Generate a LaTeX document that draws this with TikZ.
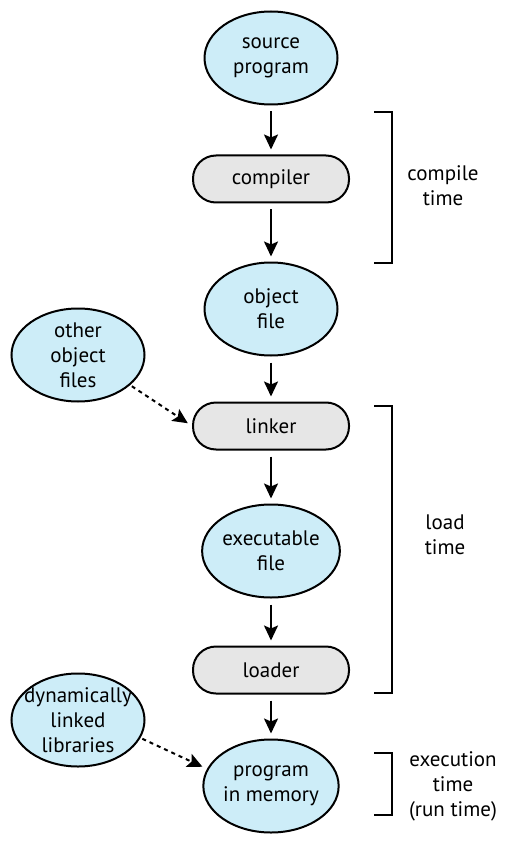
\documentclass[tikz,border=0pt]{standalone}
\usepackage{fontspec}
\setmainfont{PT Sans}
\usetikzlibrary{shapes.geometric,arrows.meta}
\definecolor{filebg}{HTML}{CDEDF8}
\definecolor{toolbg}{HTML}{E6E6E6}

\begin{document}
\begin{tikzpicture}[x=1pt,y=-1pt,font=\fontsize{21}{25}\selectfont,
	file/.style={ellipse, draw, line width=2pt, fill=filebg, minimum width=133pt,
		minimum height=93pt, inner sep=0pt, align=center},
	tool/.style={rectangle, draw, line width=2pt, fill=toolbg, rounded corners=23pt,
		minimum width=156pt, minimum height=47pt, inner sep=0pt},
	flow/.style={line width=2pt, shorten <=6pt, shorten >=5pt,
		-{Stealth[length=15pt,width=14pt,inset=3pt]}},
	extra/.style={flow, dash pattern=on 4pt off 4pt},
	brace/.style={line width=2pt}]
	\useasboundingbox (0,0) rectangle (510,842);

	% Colonna principale
	\node[file] (source) at (271,58) {source\\program};
	\node[tool] (compiler) at (271,179) {compiler};
	\node[file] (object) at (271,309) {object\\file};
	\node[tool] (linker) at (271,426) {linker};
	\node[file] (exec) at (271,551) {executable\\file};
	\node[tool] (loader) at (271,670) {loader};
	\node[file] (memory) at (271,786) {program\\in memory};

	% File esterni
	\node[file] (others) at (78,355) {other\\object\\files};
	\node[file] (dll) at (78,720) {\makebox[88pt]{dynamically}\\linked\\libraries};

	% Frecce
	\draw[flow] (source) -- (compiler);
	\draw[flow] (compiler) -- (object);
	\draw[flow] (object) -- (linker);
	\draw[flow] (linker) -- (exec);
	\draw[flow] (exec) -- (loader);
	\draw[flow] (loader) -- (memory);
	\draw[extra, shorten <=2pt] (others.-30) -- (linker.west);
	\draw[extra, shorten <=2pt] (dll.-16) -- (memory.165);

	% Parentesi e tempi
	\draw[brace] (374,112) -- (392,112) -- (392,263) -- (374,263);
	\draw[brace] (374,406) -- (392,406) -- (392,693) -- (374,693);
	\draw[brace] (374,753) -- (392,753) -- (392,815) -- (374,815);
	\node[align=center] (compile) at (443,186) {compile\\time};
	\node[align=center] (load) at (445,535) {load\\time};
	\node[align=center] (run) at (453,786) {execution\\time\\(run time)};
\end{tikzpicture}
\end{document}
